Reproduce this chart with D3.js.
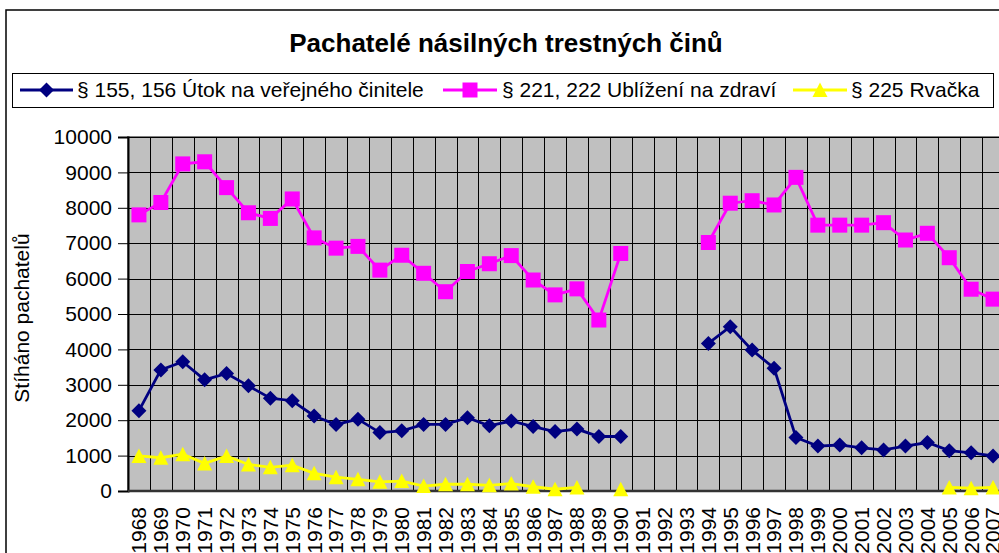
<!DOCTYPE html>
<html>
<head>
<meta charset="utf-8">
<script src="https://cdn.jsdelivr.net/npm/d3@7"></script>
<style>
    body { margin: 0; background: #fff; }
    svg { display: block; font-family: Arial, "Liberation Sans", sans-serif; }
</style>
</head>
<body>
<div id="chart"></div>
<script>
// Data
const years = d3.range(1968, 2008).map(String);

const utok = [2270, 3420, 3650, 3140, 3320, 2970, 2620, 2550, 2120, 1880,
    2030, 1650, 1700, 1880, 1880, 2070, 1840, 1980, 1820, 1680,
    1750, 1540, 1540, null, null, null, 4170, 4640, 3980, 3470,
    1510, 1270, 1300, 1220, 1160, 1270, 1370, 1140, 1080, 990];

const ublizeni = [7800, 8150, 9240, 9300, 8570, 7860, 7700, 8250, 7150, 6860,
    6910, 6240, 6660, 6150, 5630, 6200, 6420, 6650, 5960, 5540,
    5710, 4830, 6710, null, null, null, 7020, 8130, 8200, 8080,
    8860, 7510, 7510, 7510, 7580, 7090, 7280, 6590, 5700, 5420];

const rvacka = [990, 940, 1040, 780, 990, 750, 670, 730, 500, 390,
    330, 260, 280, 140, 190, 190, 160, 210, 120, 50,
    100, null, 50, null, null, null, null, null, null, null,
    null, null, null, null, null, null, null, 100, 80, 100];

const yTicks = d3.range(0, 10001, 1000);

const series = [
    {name: "§ 155, 156 Útok na veřejného činitele", values: utok, color: "#000080", marker: "diamond"},
    {name: "§ 221, 222 Ublížení na zdraví", values: ublizeni, color: "#FF00FF", marker: "square"},
    {name: "§ 225 Rvačka", values: rvacka, color: "#FFFF00", marker: "triangle"}
];

const width = 999, height = 553;
const plot = {left: 128, top: 137, bottom: 491, step: 21.9};
plot.right = plot.left + plot.step * years.length;

const svg = d3.select("#chart")
    .append("svg")
    .attr("width", width)
    .attr("height", height);

// Chart area border
svg.append("rect")
    .attr("x", 6).attr("y", 10)
    .attr("width", 1010).attr("height", 600)
    .attr("fill", "#fff")
    .attr("stroke", "#000")
    .attr("stroke-width", 1.5);

// Scales
const xScale = d3.scaleBand()
    .domain(years)
    .range([plot.left, plot.right]);

const yScale = d3.scaleLinear()
    .domain([0, 10000])
    .range([plot.bottom, plot.top]);

// Marker shapes
function markerPath(type) {
    if (type === "diamond") return "M0,-7.5L7.5,0L0,7.5L-7.5,0Z";
    if (type === "square") return "M-7.5,-7.5H7.5V7.5H-7.5Z";
    return "M0,-7.5L7.5,7L-7.5,7Z";
}

// Plot background
svg.append("rect")
    .attr("x", plot.left).attr("y", plot.top)
    .attr("width", plot.right - plot.left)
    .attr("height", plot.bottom - plot.top)
    .attr("fill", "#C0C0C0")
    .attr("stroke", "#808080")
    .attr("stroke-width", 2);

// Horizontal gridlines
svg.append("g")
    .selectAll("line")
    .data(yTicks.slice(1))
    .enter()
    .append("line")
    .attr("x1", plot.left).attr("x2", plot.right)
    .attr("y1", d => Math.round(yScale(d)) + 0.5)
    .attr("y2", d => Math.round(yScale(d)) + 0.5)
    .attr("stroke", "#000")
    .attr("stroke-width", 1);

// Vertical gridlines at category boundaries
svg.append("g")
    .selectAll("line")
    .data(years.slice(1))
    .enter()
    .append("line")
    .attr("x1", d => Math.round(xScale(d)) + 0.5)
    .attr("x2", d => Math.round(xScale(d)) + 0.5)
    .attr("y1", plot.top).attr("y2", plot.bottom)
    .attr("stroke", "#000")
    .attr("stroke-width", 1);

// Y axis
const yAxis = svg.append("g")
    .attr("transform", `translate(${plot.left},0)`)
    .call(d3.axisLeft(yScale).tickValues(yTicks).tickSize(10).tickPadding(6).tickFormat(d3.format("d")));
yAxis.select(".domain").attr("stroke", "#000").attr("stroke-width", 2);
yAxis.selectAll(".tick line").attr("stroke", "#000");
yAxis.selectAll("text")
    .attr("font-size", 21)
    .attr("font-family", "Arial, 'Liberation Sans', sans-serif")
    .attr("fill", "#000");

// X axis line
svg.append("line")
    .attr("x1", plot.left).attr("x2", plot.right)
    .attr("y1", plot.bottom).attr("y2", plot.bottom)
    .attr("stroke", "#333")
    .attr("stroke-width", 2.5);

// X labels, rotated
svg.append("g")
    .selectAll("text")
    .data(years)
    .enter()
    .append("text")
    .attr("transform", d => `translate(${xScale(d) + xScale.bandwidth() / 2},507) rotate(-90)`)
    .attr("text-anchor", "end")
    .attr("dy", "0.35em")
    .attr("font-size", 21)
    .text(d => d);

// Y axis title
svg.append("text")
    .attr("transform", "translate(29,318) rotate(-90)")
    .attr("text-anchor", "middle")
    .attr("font-size", 21)
    .text("Stíháno pachatelů");

// Lines and markers
const line = d3.line()
    .defined(d => d.v !== null)
    .x(d => xScale(d.year) + xScale.bandwidth() / 2)
    .y(d => yScale(d.v));

series.forEach(s => {
    const pts = years.map((year, i) => ({year, v: s.values[i]}));

    svg.append("path")
        .datum(pts)
        .attr("fill", "none")
        .attr("stroke", s.color)
        .attr("stroke-width", 2.8)
        .attr("d", line);

    svg.append("g")
        .selectAll("path")
        .data(pts.filter(d => d.v !== null))
        .enter()
        .append("path")
        .attr("transform", d => `translate(${xScale(d.year) + xScale.bandwidth() / 2},${yScale(d.v)})`)
        .attr("d", markerPath(s.marker))
        .attr("fill", s.color);
});

// Title
svg.append("text")
    .attr("x", 506).attr("y", 52)
    .attr("text-anchor", "middle")
    .attr("font-size", 26)
    .attr("font-weight", "bold")
    .text("Pachatelé násilných trestných činů");

// Legend
svg.append("rect")
    .attr("x", 12.5).attr("y", 73.5)
    .attr("width", 981).attr("height", 34)
    .attr("fill", "#fff")
    .attr("stroke", "#000")
    .attr("stroke-width", 1);

const legendPos = [
    {x1: 20, x2: 73, tx: 77},
    {x1: 443, x2: 497, tx: 502},
    {x1: 793, x2: 847, tx: 851}
];

series.forEach((s, i) => {
    const p = legendPos[i];
    const g = svg.append("g");
    g.append("line")
        .attr("x1", p.x1).attr("x2", p.x2)
        .attr("y1", 90).attr("y2", 90)
        .attr("stroke", s.color)
        .attr("stroke-width", 2.8);
    g.append("path")
        .attr("transform", `translate(${(p.x1 + p.x2) / 2},90)`)
        .attr("d", markerPath(s.marker))
        .attr("fill", s.color);
    g.append("text")
        .attr("x", p.tx).attr("y", 97)
        .attr("font-size", 21)
        .text(s.name);
});
</script>
</body>
</html>
